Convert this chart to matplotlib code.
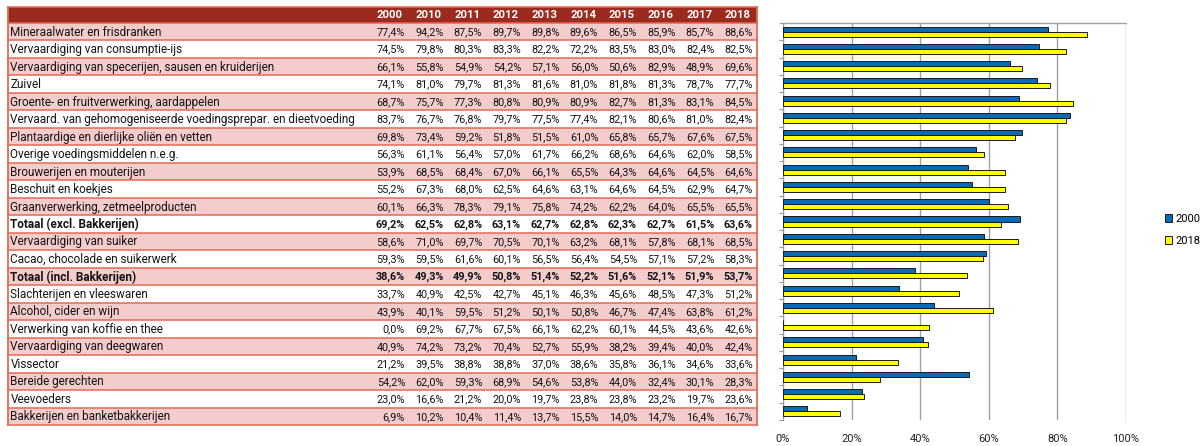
import numpy as np
import matplotlib
matplotlib.use("Agg")
import matplotlib.pyplot as plt
from matplotlib.patches import Rectangle

plt.rcParams["font.family"] = ["Roboto", "DejaVu Sans"]

years = ["2000", "2010", "2011", "2012", "2013", "2014", "2015", "2016", "2017", "2018"]

sectors = [
    "Mineraalwater en frisdranken",
    "Vervaardiging van consumptie-ijs",
    "Vervaardiging van specerijen, sausen en kruiderijen",
    "Zuivel",
    "Groente- en fruitverwerking, aardappelen",
    "Vervaard. van gehomogeniseerde voedingsprepar. en dieetvoeding",
    "Plantaardige en dierlijke oliën en vetten",
    "Overige voedingsmiddelen n.e.g.",
    "Brouwerijen en mouterijen",
    "Beschuit en koekjes",
    "Graanverwerking, zetmeelproducten",
    "Totaal (excl. Bakkerijen)",
    "Vervaardiging van suiker",
    "Cacao, chocolade en suikerwerk",
    "Totaal (incl. Bakkerijen)",
    "Slachterijen en vleeswaren",
    "Alcohol, cider en wijn",
    "Verwerking van koffie en thee",
    "Vervaardiging van deegwaren",
    "Vissector",
    "Bereide gerechten",
    "Veevoeders",
    "Bakkerijen en banketbakkerijen",
]

bold_rows = ["Totaal (excl. Bakkerijen)", "Totaal (incl. Bakkerijen)"]

# share per year, in %, one row per sector
rows = [
    [77.4, 94.2, 87.5, 89.7, 89.8, 89.6, 86.5, 85.9, 85.7, 88.6],
    [74.5, 79.8, 80.3, 83.3, 82.2, 72.2, 83.5, 83.0, 82.4, 82.5],
    [66.1, 55.8, 54.9, 54.2, 57.1, 56.0, 50.6, 82.9, 48.9, 69.6],
    [74.1, 81.0, 79.7, 81.3, 81.6, 81.0, 81.8, 81.3, 78.7, 77.7],
    [68.7, 75.7, 77.3, 80.8, 80.9, 80.9, 82.7, 81.3, 83.1, 84.5],
    [83.7, 76.7, 76.8, 79.7, 77.5, 77.4, 82.1, 80.6, 81.0, 82.4],
    [69.8, 73.4, 59.2, 51.8, 51.5, 61.0, 65.8, 65.7, 67.6, 67.5],
    [56.3, 61.1, 56.4, 57.0, 61.7, 66.2, 68.6, 64.6, 62.0, 58.5],
    [53.9, 68.5, 68.4, 67.0, 66.1, 65.5, 64.3, 64.6, 64.5, 64.6],
    [55.2, 67.3, 68.0, 62.5, 64.6, 63.1, 64.6, 64.5, 62.9, 64.7],
    [60.1, 66.3, 78.3, 79.1, 75.8, 74.2, 62.2, 64.0, 65.5, 65.5],
    [69.2, 62.5, 62.8, 63.1, 62.7, 62.8, 62.3, 62.7, 61.5, 63.6],
    [58.6, 71.0, 69.7, 70.5, 70.1, 63.2, 68.1, 57.8, 68.1, 68.5],
    [59.3, 59.5, 61.6, 60.1, 56.5, 56.4, 54.5, 57.1, 57.2, 58.3],
    [38.6, 49.3, 49.9, 50.8, 51.4, 52.2, 51.6, 52.1, 51.9, 53.7],
    [33.7, 40.9, 42.5, 42.7, 45.1, 46.3, 45.6, 48.5, 47.3, 51.2],
    [43.9, 40.1, 59.5, 51.2, 50.1, 50.8, 46.7, 47.4, 63.8, 61.2],
    [0.0, 69.2, 67.7, 67.5, 66.1, 62.2, 60.1, 44.5, 43.6, 42.6],
    [40.9, 74.2, 73.2, 70.4, 52.7, 55.9, 38.2, 39.4, 40.0, 42.4],
    [21.2, 39.5, 38.8, 38.8, 37.0, 38.6, 35.8, 36.1, 34.6, 33.6],
    [54.2, 62.0, 59.3, 68.9, 54.6, 53.8, 44.0, 32.4, 30.1, 28.3],
    [23.0, 16.6, 21.2, 20.0, 19.7, 23.8, 23.8, 23.2, 19.7, 23.6],
    [6.9, 10.2, 10.4, 11.4, 13.7, 15.5, 14.0, 14.7, 16.4, 16.7],
]

W, H = 1201, 446
fig = plt.figure(figsize=(W / 100, H / 100), dpi=100)

# ---- table, drawn in pixel coordinates ----
tab = fig.add_axes([0, 0, 1, 1])
tab.set_xlim(0, W)
tab.set_ylim(H, 0)
tab.axis("off")

HEADER_RED = "#9c2b1f"
PINK = "#f4cccc"
LINE_RED = "#e26a55"
TXT = "#141414"
left, right = 8, 757
top, head_h = 7, 16
row_h = (425 - (top + head_h)) / len(sectors)
first_col_right = 405
col_step = (753 - first_col_right) / (len(years) - 1)
fs_label, fs_val, fs_head = 8.5, 7.8, 8.2

tab.add_patch(Rectangle((left, top), right - left, head_h, facecolor=HEADER_RED,
                        edgecolor="none"))
for j, yr in enumerate(years):
    tab.text(first_col_right - 2 + j * col_step, top + head_h / 2 + 0.5, yr,
             ha="right", va="center", color="white", fontsize=fs_head, fontweight="bold")

for i, (name, vals) in enumerate(zip(sectors, rows)):
    y0 = top + head_h + i * row_h
    fc = PINK if i % 2 == 0 else "white"
    tab.add_patch(Rectangle((left, y0), right - left, row_h, facecolor=fc,
                            edgecolor="none"))
    tab.plot([left, right], [y0 + row_h, y0 + row_h], color=LINE_RED, lw=1.1)
    fw = "bold" if name in bold_rows else "normal"
    tab.text(left + 2.5, y0 + row_h / 2 + 0.5, name, ha="left", va="center",
             fontsize=fs_label, fontweight=fw, color=TXT)
    for j, v in enumerate(vals):
        txt = f"{v:.1f}%".replace(".", ",")
        tab.text(first_col_right + j * col_step, y0 + row_h / 2 + 0.5, txt,
                 ha="right", va="center", fontsize=fs_val, fontweight=fw, color=TXT)

bottom = top + head_h + len(sectors) * row_h
tab.plot([left, left], [top, bottom], color=LINE_RED, lw=1.3)
tab.plot([right, right], [top, bottom], color=LINE_RED, lw=1.3)
tab.plot([left, right], [top, top], color=LINE_RED, lw=1.1)
tab.plot([left, right], [top + head_h, top + head_h], color=LINE_RED, lw=1.1)

# ---- bar chart ----
x0, x1, y_top, y_bot = 783, 1126, 23, 420
ax = fig.add_axes([x0 / W, 1 - y_bot / H, (x1 - x0) / W, (y_bot - y_top) / H])

v2000 = np.array([r[0] for r in rows]) / 100
v2018 = np.array([r[-1] for r in rows]) / 100
pos = np.arange(len(sectors))
bh = 0.29
ax.barh(pos - bh / 2, v2000, height=bh, color="#0a6ab6", edgecolor="#1a1a1a",
        lw=0.7, label="2000", zorder=3)
ax.barh(pos + bh / 2, v2018, height=bh, color="#ffff00", edgecolor="#1a1a1a",
        lw=0.7, label="2018", zorder=3)

ax.set_ylim(len(sectors) - 0.5, -0.5)
ax.set_xlim(0, 1)
ax.set_yticks(np.arange(len(sectors) + 1) - 0.5)
ax.set_yticklabels([])
ax.tick_params(axis="y", length=3, color="#999999", width=0.8)
ax.set_xticks(np.arange(0, 1.01, 0.2))
ax.set_xticklabels([f"{int(round(t * 100))}%" for t in np.arange(0, 1.01, 0.2)])
ax.tick_params(axis="x", length=0, pad=10, labelsize=8, labelcolor="#222222")
ax.grid(axis="x", color="#a0a0a0", lw=1, zorder=0)
for s in ["right", "bottom"]:
    ax.spines[s].set_visible(False)
ax.spines["left"].set_color("#999999")
ax.spines["top"].set_color("#a0a0a0")
ax.spines["top"].set_linewidth(1)

fig.legend(loc="center left", bbox_to_anchor=(1159 / W, 1 - 230 / H), frameon=False,
           fontsize=8, handlelength=0.7, handleheight=0.7, handletextpad=0.3,
           labelspacing=1.05, borderpad=0)

fig.savefig("out.png", dpi=100)
